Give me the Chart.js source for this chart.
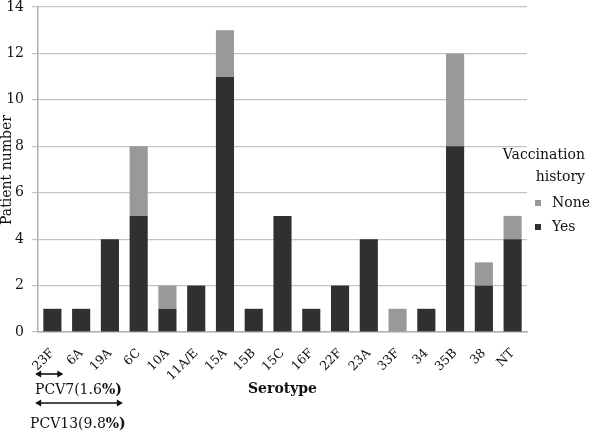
<!DOCTYPE html>
<html><head><meta charset="utf-8">
<script src="https://cdn.jsdelivr.net/npm/chart.js@4"></script>
<style>html,body{margin:0;padding:0;background:#fff}#wrap{width:595px;height:432px;position:relative}</style>
</head><body><div id="wrap"><canvas id="c"></canvas></div>
<script>
const serotypes = ['23F','6A','19A','6C','10A','11A/E','15A','15B','15C','16F','22F','23A','33F','34','35B','38','NT'];
const yesCounts  = [1,1,4,5,1,2,11,1,5,1,2,4,0,1,8,2,4];
const noneCounts = [0,0,0,3,1,0,2,0,0,0,0,0,1,0,4,1,1];
const yMax = 14, yStep = 2;
const pcvLabels = ['PCV7(1.6', 'PCV13(9.8'];

const FONT = "'DejaVu Serif', serif";
const DARK = '#303030', GREY = '#999999', GC = '#c4c4c4';

function arrow(c, x1, x2, y) {
  const h = 6;
  c.beginPath(); c.moveTo(x1 + 2, y); c.lineTo(x2 - 2, y); c.stroke();
  c.beginPath(); c.moveTo(x1, y); c.lineTo(x1 + h, y - 3.5); c.lineTo(x1 + h, y + 3.5); c.closePath(); c.fill();
  c.beginPath(); c.moveTo(x2, y); c.lineTo(x2 - h, y - 3.5); c.lineTo(x2 - h, y + 3.5); c.closePath(); c.fill();
}

const extras = {
  id: 'extras',
  afterDraw(ch) {
    const c = ch.ctx, xs = ch.scales.x;
    c.save();
    c.fillStyle = '#111'; c.strokeStyle = '#111'; c.lineWidth = 1.6;
    // y axis title, drawn by hand so it can sit under the wide tick labels
    c.font = '14px ' + FONT;
    c.save();
    c.translate(7, 170);
    c.rotate(-Math.PI / 2);
    c.textAlign = 'center'; c.textBaseline = 'middle';
    c.fillText('Patient number', 0, 0);
    c.restore();
    // PCV coverage arrows (in category units)
    arrow(c, xs.getPixelForValue(-0.6), xs.getPixelForValue(0.38), 374);
    arrow(c, xs.getPixelForValue(-0.6), xs.getPixelForValue(2.45), 403);
    c.textBaseline = 'middle';
    [[pcvLabels[0], 35, 390], [pcvLabels[1], 30, 424]].forEach(([t, x, y]) => {
      c.font = '14px ' + FONT;
      c.fillText(t, x, y);
      const w = c.measureText(t).width;
      c.font = 'bold 14px ' + FONT;
      c.fillText('%)', x + w, y);
    });
    // legend
    c.font = '14px ' + FONT;
    c.textAlign = 'right';
    c.fillText('Vaccination', 585, 155);
    c.fillText('history', 585, 177);
    c.textAlign = 'left';
    c.fillStyle = GREY; c.fillRect(535, 200, 6, 6);
    c.fillStyle = DARK; c.fillRect(535, 224, 6, 6);
    c.fillStyle = '#111';
    c.fillText('None', 552, 203);
    c.fillText('Yes', 552, 227);
    c.restore();
  }
};

new Chart(document.getElementById('c'), {
  type: 'bar',
  plugins: [extras],
  data: {
    labels: serotypes,
    datasets: [
      { label: 'Yes', data: yesCounts, backgroundColor: DARK, barPercentage: 0.63, categoryPercentage: 1 },
      { label: 'None', data: noneCounts, backgroundColor: GREY, barPercentage: 0.63, categoryPercentage: 1 }
    ]
  },
  options: {
    responsive: true, maintainAspectRatio: false, animation: false,
    layout: { padding: { top: 7, right: 68, bottom: 34, left: 0 } },
    scales: {
      x: {
        stacked: true,
        grid: { display: false },
        border: { color: '#b0b0b0', width: 1.5 },
        ticks: { color: '#111', font: { family: FONT, size: 12.5 }, minRotation: 45, maxRotation: 45, padding: 6 },
        title: { display: true, text: 'Serotype', color: '#111', font: { family: FONT, size: 14, weight: 'bold' }, padding: { top: 0, bottom: 0 } },
        afterFit(s) { s.height = 66; s.paddingLeft = 0; s.paddingRight = 0; }
      },
      y: {
        stacked: true, min: 0, max: yMax,
        grid: { color: GC, lineWidth: 1.2, tickLength: 6 },
        border: { color: '#b0b0b0', width: 1.5 },
        ticks: { stepSize: yStep, color: '#111', font: { family: FONT, size: 14 }, padding: 8 },
        title: { display: false },
        afterFit(s) { s.width = 38; s.paddingTop = 0; s.paddingBottom = 0; }
      }
    },
    plugins: { legend: { display: false }, tooltip: { enabled: false } }
  }
});
</script>
</body></html>
